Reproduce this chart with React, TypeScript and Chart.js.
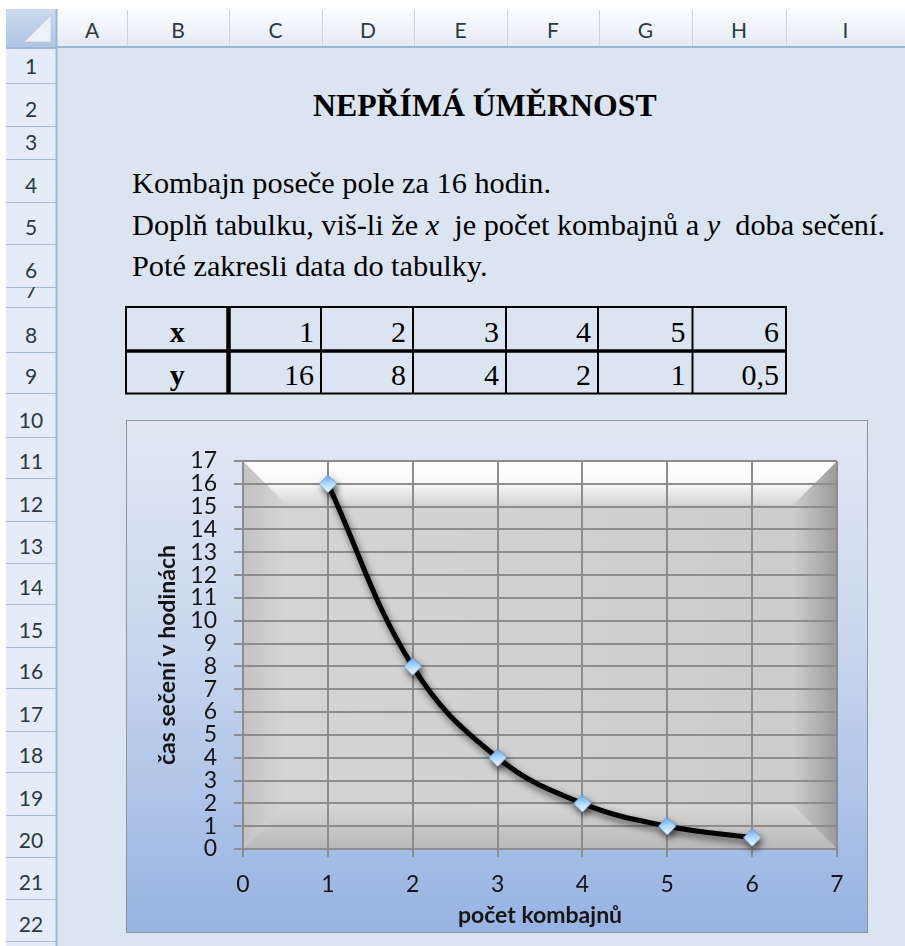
import React, { useEffect, useRef } from 'react';
import { Chart, registerables } from 'chart.js';

Chart.register(...registerables);

// ---------------- data ----------------
const kombajny = [1, 2, 3, 4, 5, 6];
const hodiny = [16, 8, 4, 2, 1, 0.5];
const xAxisMin = 0;
const xAxisMax = 7;
const yAxisMin = 0;
const yAxisMax = 17;
const xAxisTitle = 'počet kombajnů';
const yAxisTitle = 'čas sečení v hodinách';
const columnLetters = ['A', 'B', 'C', 'D', 'E', 'F', 'G', 'H', 'I'];
const rowNumbers = [1, 2, 3, 4, 5, 6, 7, 8, 9, 10, 11, 12, 13, 14, 15, 16, 17, 18, 19, 20, 21, 22];
const sheetTitle = 'NEPŘÍMÁ ÚMĚRNOST';
const textLine1 = 'Kombajn poseče pole za 16 hodin.';
const textLine3 = 'Poté zakresli data do tabulky.';
const tableRowLabels = ['x', 'y'];

// ---------------- layout (sheet geometry) ----------------
const COL_EDGES = [57, 127, 229, 322, 414, 507, 599, 692, 786, 905];
const ROW_EDGES = [48, 83, 126, 159, 202, 244, 287, 307, 352, 393, 437, 478, 521, 563, 604, 647, 688, 731, 772, 815, 857, 899, 941, 984];
const TABLE_X = [126, 228.5, 321, 413, 506, 598, 692.5, 786];
const TABLE_Y = [307, 351, 393.5];
const SERIF = "'Liberation Serif', 'Times New Roman', serif";
const SANS = "Lato, 'Noto Sans', sans-serif";
const SERIF_ASC = 0.8375; // baseline offset with line-height 1
const SANS_ASC = 0.887;

type TProps = {
  x: number;
  baseline: number;
  size: number;
  family: string;
  asc: number;
  weight?: string | number;
  anchor?: 'start' | 'middle' | 'end';
  color?: string;
  children: React.ReactNode;
};

function T({ x, baseline, size, family, asc, weight = 'normal', anchor = 'start', color = '#000', children }: TProps) {
  const style: React.CSSProperties = {
    position: 'absolute',
    top: baseline - asc * size,
    fontFamily: family,
    fontSize: size,
    fontWeight: weight as any,
    lineHeight: 1,
    whiteSpace: 'pre',
    color,
  };
  if (anchor === 'start') style.left = x;
  else if (anchor === 'end') style.right = 905 - x;
  else {
    style.left = x - 200;
    style.width = 400;
    style.textAlign = 'center';
  }
  return <div style={style}>{children}</div>;
}

function ChartBox() {
  const ref = useRef<HTMLCanvasElement>(null);
  useEffect(() => {
    const canvas = ref.current!;
    const marker = document.createElement('canvas');
    marker.width = 20;
    marker.height = 20;
    const m = marker.getContext('2d')!;
    const mg = m.createLinearGradient(0, 1, 0, 19);
    mg.addColorStop(0, '#5ea6ec');
    mg.addColorStop(0.45, '#a8d6fc');
    mg.addColorStop(1, '#f2f9ff');
    m.beginPath();
    m.moveTo(10, 1);
    m.lineTo(19, 10);
    m.lineTo(10, 19);
    m.lineTo(1, 10);
    m.closePath();
    m.fillStyle = mg;
    m.fill();
    m.strokeStyle = 'rgba(80,130,190,0.55)';
    m.lineWidth = 0.8;
    m.stroke();

    const bgPlugin = {
      id: 'excelBg',
      beforeDraw(chart: any) {
        const ctx = chart.ctx as CanvasRenderingContext2D;
        const W = chart.width, H = chart.height;
        ctx.save();
        const bg = ctx.createLinearGradient(0, 0, 0, H);
        bg.addColorStop(0, '#e1e8f4');
        bg.addColorStop(0.45, '#c8d6ee');
        bg.addColorStop(1, '#97b3e2');
        ctx.fillStyle = bg;
        ctx.fillRect(0, 0, W, H);
        const { left: L, top: T0, right: R, bottom: B } = chart.chartArea;
        const b = 44;
        const base = ctx.createLinearGradient(L, 0, R, 0);
        base.addColorStop(0, '#d5d5d5');
        base.addColorStop(1, '#cbcbcb');
        ctx.fillStyle = base;
        ctx.fillRect(L, T0, R - L, B - T0);
        const poly = (pts: number[], fill: any) => {
          ctx.beginPath();
          ctx.moveTo(pts[0], pts[1]);
          for (let i = 2; i < pts.length; i += 2) ctx.lineTo(pts[i], pts[i + 1]);
          ctx.closePath();
          ctx.fillStyle = fill;
          ctx.fill();
        };
        let g = ctx.createLinearGradient(L, 0, L + b, 0);
        g.addColorStop(0, '#c2c2c2');
        g.addColorStop(1, '#d6d6d6');
        poly([L, T0, L + b, T0 + b, L + b, B - b, L, B], g);
        g = ctx.createLinearGradient(0, B - b, 0, B);
        g.addColorStop(0, '#d6d6d6');
        g.addColorStop(1, '#b9b9b9');
        poly([L, B, L + b, B - b, R - b, B - b, R, B], g);
        g = ctx.createLinearGradient(R - b, 0, R, 0);
        g.addColorStop(0, '#cdcdcd');
        g.addColorStop(1, '#9b9b9b');
        poly([R, T0, R, B, R - b, B - b, R - b, T0 + b], g);
        g = ctx.createLinearGradient(0, T0, 0, T0 + b);
        g.addColorStop(0, '#ffffff');
        g.addColorStop(0.5, '#f9f9f9');
        g.addColorStop(1, '#d4d4d4');
        poly([L, T0, R, T0, R - b, T0 + b, L + b, T0 + b], g);
        ctx.restore();
      },
    };

    const shadowPlugin = {
      id: 'lineShadow',
      beforeDatasetsDraw(chart: any) {
        const c = chart.ctx as CanvasRenderingContext2D;
        c.save();
        c.shadowColor = 'rgba(0,0,0,0.6)';
        c.shadowBlur = 7;
        c.shadowOffsetX = 2;
        c.shadowOffsetY = 4;
      },
      afterDatasetsDraw(chart: any) {
        chart.ctx.restore();
      },
    };

    const gridColor = '#8d8d8d';
    const chart = new Chart(canvas, {
      type: 'line',
      data: {
        datasets: [
          {
            data: kombajny.map((x, i) => ({ x, y: hodiny[i] })),
            borderColor: '#000000',
            borderWidth: 5,
            tension: 0.4,
            pointStyle: marker as any,
            pointRadius: 9,
            pointHoverRadius: 9,
            fill: false,
            clip: false as any,
          },
        ],
      },
      options: {
        responsive: false,
        animation: false,
        devicePixelRatio: 1,
        events: [],
        layout: { padding: { left: 0, top: 40, right: 30, bottom: 0 } },
        plugins: { legend: { display: false }, tooltip: { enabled: false } },
        scales: {
          x: {
            type: 'linear',
            min: xAxisMin,
            max: xAxisMax,
            ticks: { stepSize: 1, autoSkip: false, padding: 14, color: '#151515', font: { family: SANS, size: 23 } },
            grid: { color: gridColor, lineWidth: 2, tickLength: 8 },
            border: { color: gridColor, width: 2 },
            title: {
              display: true,
              text: xAxisTitle,
              color: '#151515',
              font: { family: SANS, size: 23, weight: 'bold' },
              padding: { top: 0, bottom: 3 },
            },
            afterFit(s: any) {
              s.height = 83;
            },
          },
          y: {
            type: 'linear',
            min: yAxisMin,
            max: yAxisMax,
            ticks: { stepSize: 1, autoSkip: false, padding: 17, color: '#151515', font: { family: SANS, size: 23 } },
            grid: { color: gridColor, lineWidth: 2, tickLength: 9 },
            border: { color: gridColor, width: 2 },
            title: {
              display: true,
              text: yAxisTitle,
              color: '#151515',
              font: { family: SANS, size: 23, weight: 'bold' },
              padding: { top: 27, bottom: 0 },
            },
            afterFit(s: any) {
              s.width = 116;
            },
          },
        },
      } as any,
      plugins: [bgPlugin, shadowPlugin],
    });
    return () => chart.destroy();
  }, []);
  return <canvas ref={ref} width={740} height={511} style={{ display: 'block', width: 740, height: 511 }} />;
}

export default function App() {
  const xLabels = kombajny.map((v) => String(v));
  const yLabels = hodiny.map((v) => String(v).replace('.', ','));
  const body = { family: SERIF, asc: SERIF_ASC, size: 30.3 };
  return (
    <div style={{ position: 'absolute', left: 0, top: 0, width: 905, height: 946, overflow: 'hidden', background: '#fff' }}>
      <svg width={905} height={946} style={{ position: 'absolute', left: 0, top: 0 }}>
        <defs>
          <linearGradient id="hdr" x1="0" y1="0" x2="0" y2="1">
            <stop offset="0" stopColor="#fbfcfe" />
            <stop offset="1" stopColor="#e3eaf5" />
          </linearGradient>
          <linearGradient id="corner" x1="0" y1="0" x2="0" y2="1">
            <stop offset="0" stopColor="#cbdaee" />
            <stop offset="1" stopColor="#aec5e4" />
          </linearGradient>
        </defs>
        <rect x={0} y={0} width={905} height={946} fill="#ffffff" />
        <rect x={57} y={48} width={848} height={898} fill="#dbe5f1" />
        {/* column header */}
        <rect x={6} y={9} width={899} height={39} fill="url(#hdr)" />
        {COL_EDGES.slice(1, 9).map((x) => (
          <line key={'cs' + x} x1={x + 0.5} y1={10} x2={x + 0.5} y2={47} stroke="#c6d4e5" strokeWidth={1} />
        ))}
        <line x1={6} y1={47} x2={905} y2={47} stroke="#9eb6ce" strokeWidth={2} />
        {/* corner */}
        <rect x={6} y={9} width={51} height={38} fill="url(#corner)" />
        <polygon points="51,15 51,42 24,42" fill="#eef2f8" stroke="#b5c4d6" strokeWidth={0.8} />
        {/* row header */}
        <rect x={6} y={48} width={50} height={898} fill="#e4ecf7" />
        {ROW_EDGES.map((y) => (
          <line key={'rs' + y} x1={6} y1={y + 0.5} x2={56} y2={y + 0.5} stroke="#a6bcd4" strokeWidth={1} />
        ))}
        <line x1={56.5} y1={9} x2={56.5} y2={946} stroke="#9eb6ce" strokeWidth={2} />
        {/* table lines */}
        <rect x={TABLE_X[0]} y={TABLE_Y[0]} width={TABLE_X[7] - TABLE_X[0]} height={TABLE_Y[2] - TABLE_Y[0]} fill="none" stroke="#000" strokeWidth={2} />
        {TABLE_X.slice(2, 7).map((x) => (
          <line key={'tv' + x} x1={x} y1={TABLE_Y[0]} x2={x} y2={TABLE_Y[2]} stroke="#000" strokeWidth={2} />
        ))}
        <line x1={TABLE_X[1]} y1={TABLE_Y[0]} x2={TABLE_X[1]} y2={TABLE_Y[2]} stroke="#000" strokeWidth={4.5} />
        <line x1={TABLE_X[0]} y1={TABLE_Y[1]} x2={TABLE_X[7]} y2={TABLE_Y[1]} stroke="#000" strokeWidth={3.5} />
      </svg>

      {/* column letters */}
      {columnLetters.map((c, i) => (
        <T key={c} x={(COL_EDGES[i] + COL_EDGES[i + 1]) / 2} baseline={38} size={21} family={SANS} asc={SANS_ASC} anchor="middle" color="#2b3a42">
          {c}
        </T>
      ))}
      {/* row numbers (clipped to their rows) */}
      {rowNumbers.map((r) => {
        const top = ROW_EDGES[r - 1];
        const h = ROW_EDGES[r] - top;
        return (
          <div key={'rn' + r} style={{ position: 'absolute', left: 6, top, width: 50, height: h, overflow: 'hidden' }}>
            <div
              style={{
                position: 'absolute',
                left: 0,
                width: 50,
                top: h - 9 - SANS_ASC * 21,
                textAlign: 'center',
                fontFamily: SANS,
                fontSize: 21,
                lineHeight: 1,
                color: '#2b3a42',
              }}
            >
              {r}
            </div>
          </div>
        );
      })}

      {/* title and text */}
      <T x={313} baseline={117} size={31.8} family={SERIF} asc={SERIF_ASC} weight="bold">
        {sheetTitle}
      </T>
      <T x={132} baseline={193} {...body}>
        {textLine1}
      </T>
      <T x={132} baseline={235} {...body}>
        {'Doplň tabulku, viš-li že '}
        <i>x</i>
        {'  je počet kombajnů a '}
        <i>y</i>
        {'  doba sečení.'}
      </T>
      <T x={132} baseline={276} {...body}>
        {textLine3}
      </T>

      {/* table text */}
      {tableRowLabels.map((lab, ri) => (
        <T key={lab} x={(TABLE_X[0] + TABLE_X[1]) / 2} baseline={ri === 0 ? 342 : 385} size={30} family={SERIF} asc={SERIF_ASC} weight="bold" anchor="middle">
          {lab}
        </T>
      ))}
      {xLabels.map((v, i) => (
        <T key={'tx' + i} x={TABLE_X[i + 2] - 7} baseline={342} size={30} family={SERIF} asc={SERIF_ASC} anchor="end">
          {v}
        </T>
      ))}
      {yLabels.map((v, i) => (
        <T key={'ty' + i} x={TABLE_X[i + 2] - 7} baseline={385} size={30} family={SERIF} asc={SERIF_ASC} anchor="end">
          {v}
        </T>
      ))}

      <div style={{ position: 'absolute', left: 126, top: 420, border: '1px solid #8f9296', width: 740, height: 511 }}>
        <ChartBox />
      </div>
    </div>
  );
}
